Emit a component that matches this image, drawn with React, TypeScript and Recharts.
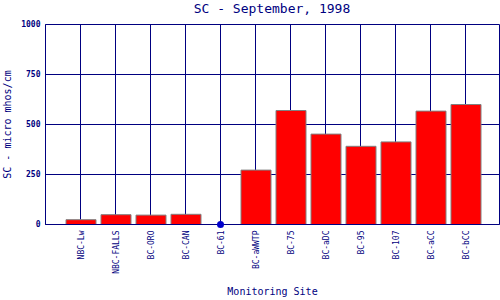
import { ComposedChart, XAxis, YAxis, CartesianGrid, Bar, Line, Label } from 'recharts';

const NAVY = '#000080';
const FONT = '"DejaVu Sans Mono", monospace';

const sites = ['NBC-Lw', 'NBC-FALLS', 'BC-ORO', 'BC-CAN', 'BC-61', 'BC-aWWTP', 'BC-75', 'BC-aDC', 'BC-95', 'BC-107', 'BC-aCC', 'BC-bCC'];
const scValues = [24, 49, 47, 51, 0, 272, 570, 452, 391, 413, 567, 600];
// sites with no bar get a blue marker on the baseline
const markers = [null, null, null, null, 0, null, null, null, null, null, null, null];
const yTicks = [0, 250, 500, 750, 1000];

const data = sites.map((site, i) => ({ site, sc: scValues[i], marker: markers[i] }));

function SiteTick({ x, y, payload }: any) {
  return (
    <text
      transform={`translate(${x + 3},${y}) rotate(-90)`}
      textAnchor="end"
      fontSize={8}
      fontFamily={FONT}
      fill={NAVY}
    >
      {payload.value}
    </text>
  );
}

function MarkerDot({ cx, cy, payload }: any) {
  if (payload.marker == null) return null;
  return <circle key={payload.site} cx={cx} cy={cy} r={3.5} fill="#0000cc" />;
}

export default function App() {
  return (
    <div style={{ position: 'absolute', left: 0, top: 0, width: 500, height: 300, background: '#fff' }}>
      <div
        style={{
          position: 'absolute',
          left: 45,
          width: 454,
          top: 0,
          textAlign: 'center',
          fontFamily: FONT,
          fontSize: 13,
          lineHeight: '17px',
          color: NAVY,
        }}
      >
        SC - September, 1998
      </div>
      <ComposedChart width={500} height={300} data={data} margin={{ top: 24.5, right: 0.5, bottom: 0, left: 0.5 }}>
        <CartesianGrid stroke={NAVY} strokeWidth={1} />
        <XAxis
          dataKey="site"
          interval={0}
          padding={{ left: 17.5, right: 16.5 }}
          height={75.5}
          tickSize={0}
          tickMargin={6}
          tick={<SiteTick />}
          axisLine={{ stroke: NAVY }}
        >
          <Label
            value="Monitoring Site"
            position="insideBottom"
            offset={5}
            style={{ fontFamily: FONT, fontSize: 10, fill: NAVY }}
          />
        </XAxis>
        <YAxis
          width={45}
          domain={[0, 1000]}
          ticks={yTicks}
          tickSize={0}
          tickMargin={5}
          axisLine={{ stroke: NAVY }}
          tick={{ fontFamily: FONT, fontSize: 8, fontWeight: 'bold', fill: NAVY }}
        >
          <Label
            content={({ viewBox }: any) => {
              const cx = 11;
              const cy = viewBox.y + viewBox.height / 2;
              return (
                <text
                  x={cx}
                  y={cy}
                  transform={`rotate(-90, ${cx}, ${cy})`}
                  textAnchor="middle"
                  fontFamily={FONT}
                  fontSize={10}
                  fill={NAVY}
                >
                  SC - micro mhos/cm
                </text>
              );
            }}
          />
        </YAxis>
        <YAxis yAxisId="frame" orientation="right" width={0} tick={false} tickLine={false} axisLine={{ stroke: NAVY }} />
        <Bar dataKey="sc" barSize={30} fill="#ff0000" stroke="#808080" strokeWidth={1} isAnimationActive={false} />
        <Line dataKey="marker" stroke="none" dot={<MarkerDot />} activeDot={false} isAnimationActive={false} />
      </ComposedChart>
    </div>
  );
}
